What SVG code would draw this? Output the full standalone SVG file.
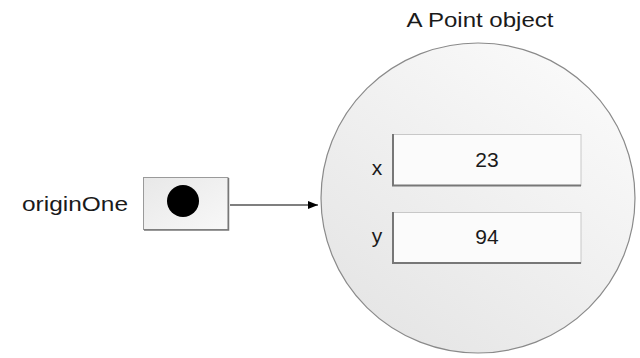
<svg xmlns="http://www.w3.org/2000/svg" width="640" height="358" viewBox="0 0 640 358">
<defs>
<linearGradient id="gCircle" x1="0.8" y1="0.1" x2="0.2" y2="0.9">
<stop offset="0" stop-color="#f9f9f9"/>
<stop offset="1" stop-color="#e6e6e6"/>
</linearGradient>
<linearGradient id="gBox" x1="0" y1="0" x2="1" y2="1">
<stop offset="0" stop-color="#e8e8e8"/>
<stop offset="1" stop-color="#f8f8f8"/>
</linearGradient>
<marker id="arrow" markerWidth="10" markerHeight="8" refX="10" refY="4" orient="auto" markerUnits="userSpaceOnUse">
<path d="M0,0 L10,4 L0,8 Z" fill="#000"/>
</marker>
</defs>
<style>
text{font-family:"Liberation Sans",Arial,Helvetica,sans-serif;fill:#1a1a1a;}
.lbl{font-size:21px;}
.field{fill:#fbfbfb;stroke:#c8c8c8;stroke-width:1;}
.bevel{fill:none;stroke:#777;stroke-width:2;}
</style>
<rect width="640" height="358" fill="#fff"/>
<g id="point-object">
<ellipse cx="478" cy="198" rx="157" ry="155" fill="url(#gCircle)" stroke="#8a8a8a" stroke-width="1.2"/>
<text class="lbl" x="480" y="27" text-anchor="middle" textLength="147" lengthAdjust="spacingAndGlyphs">A Point object</text>
</g>
<g id="field-x">
<rect class="field" x="392.5" y="134.5" width="188.5" height="51"/>
<path class="bevel" d="M393,134 V185.5 H581"/>
<text class="lbl" x="377" y="175" text-anchor="middle">x</text>
<text class="lbl" x="487" y="167" text-anchor="middle">23</text>
</g>
<g id="field-y">
<rect class="field" x="392.5" y="212.5" width="188.5" height="50.5"/>
<path class="bevel" d="M393,212 V263 H581"/>
<text class="lbl" x="377" y="243" text-anchor="middle">y</text>
<text class="lbl" x="487" y="244" text-anchor="middle">94</text>
</g>
<g id="originOne">
<text class="lbl" x="22" y="211" textLength="106" lengthAdjust="spacingAndGlyphs">originOne</text>
<rect x="143.5" y="177.5" width="84.5" height="52" fill="url(#gBox)" stroke="#9a9a9a" stroke-width="1"/>
<path d="M144,230 H228.5 V178" fill="none" stroke="#777" stroke-width="1.5"/>
<circle cx="183" cy="201" r="16" fill="#000"/>
</g>
<g id="connectors">
<line x1="230" y1="205" x2="318" y2="205" stroke="#000" stroke-width="1.2" marker-end="url(#arrow)"/>
</g>
</svg>
